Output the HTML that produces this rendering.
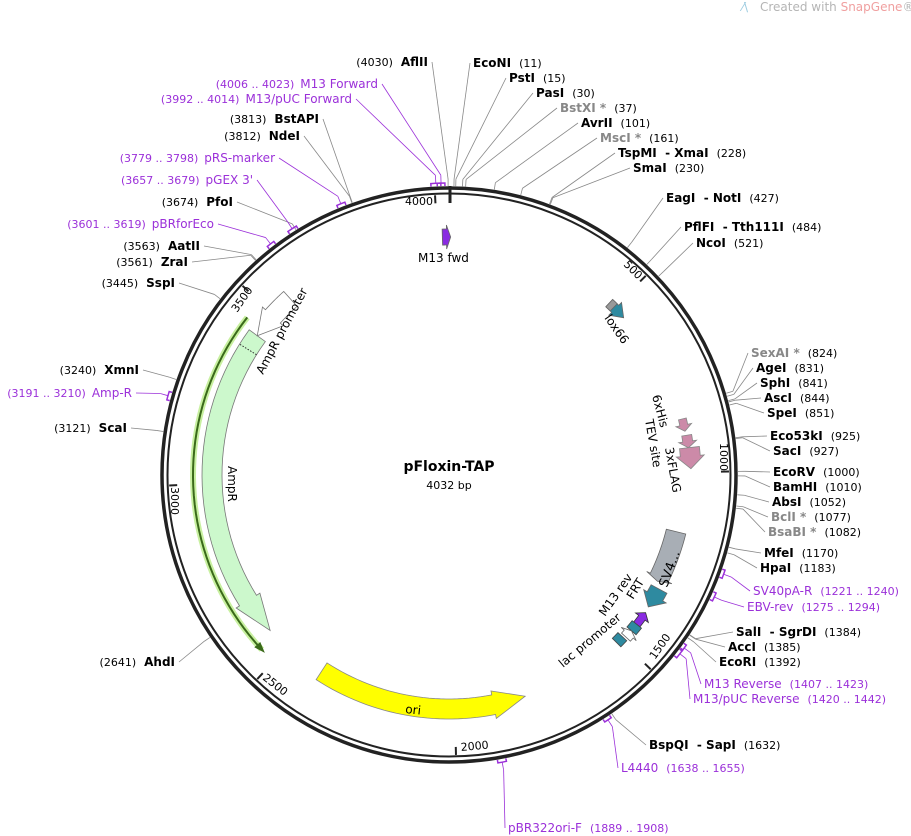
<!DOCTYPE html>
<html><head><meta charset="utf-8"><style>
html,body{margin:0;padding:0;background:#fff;width:911px;height:836px;overflow:hidden}
svg{display:block;font-family:"DejaVu Sans","Liberation Sans",sans-serif}
</style></head><body>
<svg id="s" width="911" height="836" viewBox="0 0 911 836" xmlns="http://www.w3.org/2000/svg">
<text x="760" y="11" font-size="12" fill="#b5b5b5">Created with <tspan fill="#f0a0a0">SnapGene</tspan>®</text>
<text x="742" y="11" font-size="12" fill="#9ccbe0">⁄\</text>
<circle cx="449" cy="475" r="287" fill="none" stroke="#222" stroke-width="3.5"/>
<circle cx="449" cy="475" r="281.5" fill="none" stroke="#222" stroke-width="2"/>
<line x1="450" y1="186" x2="450" y2="203" stroke="#222" stroke-width="3"/>
<text x="449" y="471" font-size="14" font-weight="bold" text-anchor="middle">pFloxin-TAP</text>
<text x="449" y="489" font-size="11" text-anchor="middle">4032 bp</text>
<g id="g"></g>
</svg>
<script>
var cx=449,cy=475,N=4032,G=document.getElementById('g');
function P(a,r){a=a*Math.PI/180;return [cx+r*Math.sin(a),cy-r*Math.cos(a)];}
function A(p){return p/N*360;}
var h='';
function line(x1,y1,x2,y2,c,w){h+='<line x1="'+x1+'" y1="'+y1+'" x2="'+x2+'" y2="'+y2+'" stroke="'+c+'" stroke-width="'+(w||0.8)+'"/>';}
[500,1000,1500,2000,2500,3000,3500,4000].forEach(function(t){
 var a=A(t),p1=P(a,280),p2=P(a,272);line(p1[0],p1[1],p2[0],p2[1],'#222',2);});
function tl(x,y,rot,s){h+='<text x="'+x+'" y="'+y+'" font-size="11" transform="rotate('+rot+' '+x+' '+y+')">'+s+'</text>';}
tl(405,205,0,'4000');tl(623,265,45,'500');tl(720,443,90,'1000');tl(655,660,-55,'1500');tl(461,751,-5,'2000');tl(262,679,38,'2500');tl(171,487,90,'3000');tl(237,313,-55,'3500');
function site(pos,x,y,name,col,side){
 var a=A(pos),p1=P(a,289),p2=P(a,296);
 var ex=side=='L'?x+4:x-3,ey=y-4;
 line(p1[0],p1[1],p2[0],p2[1],'#888');line(p2[0],p2[1],ex,ey,'#888');
 if(side=='L') h+='<text x="'+x+'" y="'+y+'" text-anchor="end" font-size="11"><tspan>('+pos+')</tspan><tspan dx="8" font-size="12" font-weight="bold" fill="'+(col||'#000')+'">'+name+'</tspan></text>';
 else h+='<text x="'+x+'" y="'+y+'" font-size="12"><tspan font-weight="bold" fill="'+(col||'#000')+'">'+name+'</tspan><tspan dx="8" font-size="11">('+pos+')</tspan></text>';
}
var g='#888';
site(11,473,67,'EcoNI');site(15,509,82,'PstI');site(30,536,97,'PasI');site(37,560,112,'BstXI *',g);
site(101,581,127,'AvrII');site(161,600,142,'MscI *',g);site(228,618,157,'TspMI &#160;- XmaI');site(230,633,172,'SmaI');
site(427,666,202,'EagI &#160;- NotI');site(484,684,231,'PflFI &#160;- Tth111I');site(521,696,247,'NcoI');
site(824,751,357,'SexAI *',g);site(831,756,372,'AgeI');site(841,760,387,'SphI');site(844,764,402,'AscI');site(851,767,417,'SpeI');
site(925,770,440,'Eco53kI');site(927,773,455,'SacI');site(1000,773,476,'EcoRV');site(1010,773,491,'BamHI');
site(1052,772,506,'AbsI');site(1077,771,521,'BclI *',g);site(1082,768,536,'BsaBI *',g);site(1170,764,557,'MfeI');site(1183,760,572,'HpaI');
site(1384,736,636,'SalI &#160;- SgrDI');site(1385,728,651,'AccI');site(1392,719,666,'EcoRI');site(1632,649,749,'BspQI &#160;- SapI');
site(4030,428,66,'AflII',0,'L');site(3813,319,123,'BstAPI',0,'L');site(3812,300,140,'NdeI',0,'L');site(3674,233,206,'PfoI',0,'L');
site(3563,200,250,'AatII',0,'L');site(3561,188,266,'ZraI',0,'L');site(3445,175,287,'SspI',0,'L');site(3240,139,374,'XmnI',0,'L');
site(3121,127,432,'ScaI',0,'L');site(2641,175,666,'AhdI',0,'L');
var pc='#9b30d9';
function prim(s,e,x,y,name,side){
 var a1=A(s),a2=A(e),r=292,q1=P(a1,r),q2=P(a2,r),m=P((a1+a2)/2,r),m2=P((a1+a2)/2,300);
 h+='<path d="M'+P(a1,289)+' L'+q1+' A'+r+' '+r+' 0 0 1 '+q2+' L'+P(a2,289)+'" fill="none" stroke="'+pc+'" stroke-width="1.5"/>';
 var ex=side=='L'?x+4:x-3;line(m[0],m[1],m2[0],m2[1],pc);line(m2[0],m2[1],ex,y-4,pc);
 var t='('+s+' .. '+e+')';
 if(side=='L') h+='<text x="'+x+'" y="'+y+'" text-anchor="end" font-size="11" fill="'+pc+'">'+t+'<tspan dx="6" font-size="12">'+name+'</tspan></text>';
 else h+='<text x="'+x+'" y="'+y+'" font-size="12" fill="'+pc+'">'+name+'<tspan dx="8" font-size="11">'+t+'</tspan></text>';
}
prim(1221,1240,753,595,'SV40pA-R');prim(1275,1294,747,611,'EBV-rev');prim(1407,1423,704,688,'M13 Reverse');prim(1420,1442,693,703,'M13/pUC Reverse');
prim(1638,1655,621,772,'L4440');prim(1889,1908,508,832,'pBR322ori-F');
prim(4006,4023,378,88,'M13 Forward','L');prim(3992,4014,352,103,'M13/pUC Forward','L');prim(3779,3798,275,162,'pRS-marker','L');
prim(3657,3679,253,184,'pGEX 3\'','L');prim(3601,3619,214,228,'pBRforEco','L');prim(3191,3210,132,397,'Amp-R','L');
function feat(a1,a2,ri,ro,head,dir,fill,stroke){
 var pts=[],i,n=30,hl=Math.min(head,(a2-a1)*0.9);
 var b1=a1,b2=a2;if(dir>0)b2=a2-hl;else if(dir<0)b1=a1+hl;
 for(i=0;i<=n;i++)pts.push(P(b1+(b2-b1)*i/n,ro));
 if(dir>0){pts.push(P(b2,ro+4));pts.push(P(a2,(ri+ro)/2));pts.push(P(b2,ri-4));}
 for(i=n;i>=0;i--)pts.push(P(b1+(b2-b1)*i/n,ri));
 if(dir<0){pts.push(P(b1,ri-4));pts.push(P(a1,(ri+ro)/2));pts.push(P(b1,ro+4));}
 h+='<polygon points="'+pts.join(' ')+'" fill="'+fill+'" stroke="'+(stroke||'#777')+'" stroke-width="0.8"/>';
}
var gp=[];for(var i=0;i<=40;i++)gp.push(P(227+(308-227)*i/40,256));
h+='<polyline points="'+gp.join(' ')+'" fill="none" stroke="#c8f0a0" stroke-width="6"/>';
h+='<polyline points="'+gp.join(' ')+'" fill="none" stroke="#3a6a1a" stroke-width="2"/>';
var t1=P(226,256);h+='<polygon points="'+P(228.5,260)+' '+t1+' '+P(228.5,252)+'" fill="#3a6a1a"/>';
feat(229,306,227,247,9,-1,'#ccf8cc','#777');
var d1=P(302,227),d2=P(302,247);h+='<line x1="'+d1[0]+'" y1="'+d1[1]+'" x2="'+d2[0]+'" y2="'+d2[1]+'" stroke="#333" stroke-dasharray="1.5,1.5"/>';
feat(306,318,227,247,6,-1,'#fff','#777');
feat(161,213,224,244,8,-1,'#ffff00','#888');
feat(-1.6,0.4,230,246,1,1,'#8a2be2','#666');
feat(43,48,230,240,3,1,'#2e8aa0','#666');feat(43,44.5,230,240,0,0,'#999','#666');
feat(76.5,79.5,236,244,1.5,1,'#cc8aa8','#888');feat(80.5,83.5,236,246,1.5,1,'#cc8aa8','#888');feat(83.5,88.5,232,252,3,1,'#cc8aa8','#888');
feat(104,117,224,244,1,1,'#a8aeb5','#666');
feat(118.5,123.5,230,248,3,1,'#2e8aa0','#666');
feat(125,128.5,236,244,1.5,-1,'#8a2be2','#333');
feat(128.5,130.5,234,246,0,0,'#2e8aa0','#444');feat(130.5,132.5,234,246,1,-1,'#fff','#666');feat(133,135,231,243,0,0,'#2e8aa0','#444');
function ft(x,y,rot,s,fs){h+='<text x="'+x+'" y="'+y+'" font-size="'+(fs||12)+'" transform="rotate('+rot+' '+x+' '+y+')">'+s+'</text>';}
ft(263,375,-62,'AmpR promoter');ft(228,466,90,'AmpR');ft(405,713,6,'ori');ft(418,262,0,'M13 fwd');ft(604,318,55,'lox66');
ft(652,396,75,'6xHis');ft(645,420,80,'TEV site');ft(665,448,80,'3xFLAG');ft(667,588,-70,'SV4...',13);
ft(633,600,-58,'FRT');ft(605,617,-55,'M13 rev');ft(563,668,-40,'lac promoter');
G.innerHTML=h;
</script>
</body></html>
